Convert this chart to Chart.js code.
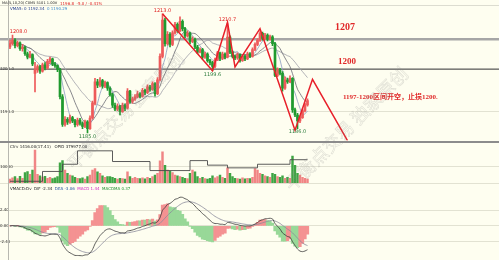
<!DOCTYPE html>
<html><head><meta charset="utf-8">
<script src="https://cdn.jsdelivr.net/npm/chart.js@4.4.0/dist/chart.umd.min.js"></script>
<style>
html,body{margin:0;padding:0;background:#fefef0;width:499px;height:260px;overflow:hidden;}
#wrap{position:relative;width:499px;height:260px;font-family:"DejaVu Sans",sans-serif;}
canvas{position:absolute;left:0;}
.t{position:absolute;white-space:nowrap;line-height:1;}
.wm{position:absolute;white-space:nowrap;font-family:"Noto Sans CJK SC";font-size:17px;line-height:1;color:rgba(255,255,255,0);-webkit-text-stroke:0.5px rgba(140,140,140,0.32);transform:translate(-50%,-50%) rotate(-45deg);}
.sep{position:absolute;left:0;width:499px;}
</style></head><body>
<div id="wrap">
<canvas id="cp" width="499" height="143" style="top:0"></canvas>
<canvas id="cv" width="499" height="47" style="top:143px"></canvas>
<canvas id="cm" width="499" height="70" style="top:190px"></canvas>
<div class="sep" style="top:141px;height:2px;background:#8c8c8c"></div>

<div class="t" style="left:2px;top:1.5px;font-size:3.6px;color:#222">MA(5,10,20) C0M5 5101 1.00V</div>
<div class="t" style="left:60px;top:1.5px;font-size:4px;color:#e02020">1196.8&nbsp; -5.0 / -0.41%</div>
<div class="t" style="left:10px;top:6.5px;font-size:4px;color:#203c90">VMA5: 0 1192.34 <span style="color:#3a8ad0">&nbsp;0 1190.29</span></div>

<div class="t" style="left:335px;top:22px;font-size:10px;font-weight:bold;color:#e02828;font-family:'Liberation Serif',serif">1207</div>
<div class="t" style="left:338px;top:57px;font-size:9px;font-weight:bold;color:#e02828;font-family:'Liberation Serif',serif">1200</div>
<div class="t" style="left:343px;top:94px;font-size:7px;font-weight:bold;color:#e02828;font-family:'Liberation Serif','Noto Sans CJK SC',serif">1197-1200区间开空，止损1200.</div>

<div class="t" style="left:10px;top:144.5px;font-size:4px;color:#222">Ctrv 1416.00(17.41)&nbsp;&nbsp; OPID 379977.00</div>
<div class="t" style="left:10px;top:186.5px;font-size:4px;color:#222">VMACD:Dv&nbsp; DIF -2.34&nbsp; <span style="color:#2050a0">DEA -3.06</span>&nbsp; <span style="color:#d020c0">MACD 1.44</span>&nbsp; <span style="color:#209030">MACDMA 0.37</span></div>

<div class="wm" style="left:125px;top:110px">平衡点交易 独家原创</div>
<div class="wm" style="left:345px;top:128px;font-size:18px">平衡点交易 独家原创</div>
</div>
<script>
// ---- DATA ----
const open = [
1205.2,1206.0,1206.8,1205.5,1206.2,1204.8,1205.2,1203.6,1202.8,1203.4,
1199.0,1199.8,1200.6,1199.5,1201.0,1200.2,1201.8,1202.4,1201.2,1200.8,
1199.9,1193.5,1187.0,1188.2,1187.5,1188.6,1187.8,1186.9,1188.0,1187.2,
1186.5,1187.6,1186.0,1188.5,1192.0,1197.0,1196.2,1197.3,1196.0,1196.8,
1195.5,1194.0,1191.5,1190.6,1191.2,1190.0,1191.5,1190.8,1194.8,1192.4,
1193.0,1193.5,1194.2,1193.6,1195.0,1194.5,1195.8,1195.2,1196.6,1194.2,
1197.5,1203.0,1211.5,1206.0,1208.2,1205.8,1208.5,1210.5,1209.0,1211.2,
1209.5,1207.8,1208.4,1206.5,1207.0,1205.2,1204.0,1204.6,1202.8,1203.5,
1202.0,1201.5,1200.6,1202.2,1203.8,1202.5,1203.5,1202.8,1207.5,1204.0,
1203.0,1202.6,1203.4,1202.0,1203.0,1202.4,1203.6,1203.0,1204.6,1205.8,
1206.8,1208.4,1207.2,1208.0,1207.0,1207.6,1206.0,1198.5,1199.8,1199.0,
1195.5,1197.5,1197.0,1197.8,1190.4,1189.2,1187.8,1188.6,1190.2,1191.6];
const high = [
1206.8,1208.0,1207.2,1206.6,1206.4,1205.8,1205.4,1204.0,1204.2,1203.6,
1201.6,1201.0,1200.9,1201.4,1201.5,1202.3,1202.8,1202.6,1201.6,1201.0,
1200.2,1194.0,1188.8,1188.6,1189.2,1188.9,1188.2,1188.5,1188.4,1187.6,
1188.0,1187.9,1189.0,1192.5,1197.8,1197.6,1198.0,1197.6,1197.2,1197.0,
1195.8,1194.3,1192.0,1191.8,1191.5,1192.0,1191.8,1195.4,1195.0,1193.4,
1194.0,1194.8,1194.5,1195.5,1195.3,1196.3,1196.2,1197.0,1196.8,1198.0,
1203.6,1213.0,1212.0,1208.8,1208.6,1209.0,1211.0,1210.9,1212.3,1211.6,
1209.8,1209.0,1208.7,1207.6,1207.3,1205.6,1205.0,1204.9,1204.0,1203.8,
1202.3,1201.8,1202.6,1204.2,1204.0,1204.0,1203.8,1210.7,1207.8,1204.3,
1203.3,1203.8,1203.6,1203.4,1203.3,1204.0,1203.9,1205.0,1206.2,1207.2,
1208.8,1208.7,1208.4,1208.3,1208.0,1207.9,1206.3,1200.3,1200.2,1199.4,
1198.2,1197.9,1198.4,1198.0,1190.8,1189.6,1189.0,1190.6,1192.0,1193.0];
const low = [
1204.8,1205.6,1205.0,1205.2,1204.4,1204.2,1203.2,1202.4,1202.6,1200.8,
1194.6,1199.2,1199.0,1199.3,1199.8,1200.0,1201.4,1200.8,1200.4,1199.4,
1193.0,1186.5,1186.6,1187.0,1187.2,1187.4,1186.4,1186.6,1186.8,1186.0,
1186.2,1185.0,1185.8,1188.2,1191.6,1195.6,1195.8,1195.5,1195.6,1195.0,
1193.6,1191.0,1190.2,1190.2,1189.2,1189.8,1190.2,1190.6,1192.0,1192.0,
1192.6,1193.2,1193.2,1193.4,1194.0,1194.2,1194.8,1195.0,1193.6,1194.0,
1197.2,1202.6,1205.4,1205.6,1205.2,1205.5,1208.2,1208.6,1208.8,1209.0,
1207.4,1207.5,1206.0,1206.2,1204.8,1203.6,1203.8,1202.4,1202.5,1201.6,
1201.0,1199.6,1200.3,1202.0,1202.0,1202.2,1202.4,1202.6,1203.6,1202.6,
1202.2,1202.3,1201.6,1201.8,1202.0,1202.2,1202.7,1202.8,1204.3,1205.5,
1206.5,1206.8,1206.9,1206.6,1206.8,1205.5,1198.2,1198.2,1198.6,1194.8,
1195.2,1196.6,1196.8,1189.8,1188.8,1186.0,1187.4,1188.4,1189.9,1191.3];
const close = [
1206.0,1206.8,1205.5,1206.2,1204.8,1205.2,1203.6,1202.8,1203.4,1201.2,
1199.8,1200.6,1199.5,1201.0,1200.2,1201.8,1202.4,1201.2,1200.8,1199.9,
1193.5,1187.0,1188.2,1187.5,1188.6,1187.8,1186.9,1188.0,1187.2,1186.5,
1187.6,1186.0,1188.5,1192.0,1197.0,1196.2,1197.3,1196.0,1196.8,1195.5,
1194.0,1191.5,1190.6,1191.2,1190.0,1191.5,1190.8,1194.8,1192.4,1193.0,
1193.5,1194.2,1193.6,1195.0,1194.5,1195.8,1195.2,1196.6,1194.2,1197.5,
1203.0,1211.5,1206.0,1208.2,1205.8,1208.5,1210.5,1209.0,1211.2,1209.5,
1207.8,1208.4,1206.5,1207.0,1205.2,1204.0,1204.6,1202.8,1203.5,1202.0,
1201.5,1200.6,1202.2,1203.8,1202.5,1203.5,1202.8,1207.5,1204.0,1203.0,
1202.6,1203.4,1202.0,1203.0,1202.4,1203.6,1203.0,1204.6,1205.8,1206.8,
1208.4,1207.2,1208.0,1207.0,1207.6,1206.0,1198.5,1199.8,1199.0,1195.5,
1197.5,1197.0,1197.8,1190.4,1189.2,1187.8,1188.6,1190.2,1191.6,1192.6];
const volume = [
2500,3200,4000,2800,4200,3000,6500,7200,5500,8000,
20500,5500,4500,3800,4200,3000,3500,2800,3200,4000,
12500,14000,8000,6000,5000,4500,3500,3000,2800,3200,
2500,4000,5000,8000,9000,7000,6000,4500,3500,4000,
4000,3500,3000,2500,3000,2800,2500,7000,4000,3000,
3500,3000,2800,3200,2600,3500,3000,4000,5000,6000,
13800,19400,11000,8000,7500,6500,5000,4500,4000,3500,
3000,2800,6000,8000,7000,4000,3000,3500,2800,2500,
3000,4500,3200,4000,5000,3500,3000,9400,6000,4000,
3000,2800,2500,3200,2600,3000,2800,3500,9000,8000,
6000,5500,4500,4000,3500,6000,5500,4000,3500,4500,
3000,3500,3000,16700,11000,6000,5000,3500,3000,2500];
// open interest (step line): bar index where the level starts, and level
const opiIdx = [0,13,21,27,41,56,72,79,87,99,112,119];
const opiVal = [372100,375360,377750,382200,378650,375650,378950,377450,376550,377750,379250,379250];
// projected zigzag path (bar index, price)
const zigIdx = [61,81,87,90,100,114,121,135];
const zigVal = [1213.0,1199.6,1211.0,1200.5,1209.5,1185.6,1197.6,1183.2];
// key levels
const levels = [1207,1200];
const priceTicks = [1190,1200];
const volTicks = [0,10000];
const markHigh = [1,61,87];
const markLow = [31,81,115];
const maPeriods = [5,10,20];

// ---- derived ----
const idx = close.map((_,i)=>i);
const up = idx.map(i=>close[i]>=open[i]);
function ma(arr,n){return arr.map((_,i)=>{const s=arr.slice(Math.max(0,i-n+1),i+1);return s.reduce((a,b)=>a+b,0)/s.length;});}
function ema(arr,n){const k=2/(n+1);let e=arr[0];return arr.map((v,i)=>{e=i?e+k*(v-e):v;return e;});}
const e12=ema(close,12), e26=ema(close,26);
const dif=idx.map(i=>e12[i]-e26[i]);
const dea=ema(dif,9);
const hist=idx.map(i=>2*(dif[i]-dea[i]));
// MACD panel scale: zero line 36px below top, 34px above bottom
const allM=[...dif,...dea,...hist];
const mPos=Math.max(...allM), mNeg=-Math.min(...allM);
const ppu=Math.min(34/mPos,32/mNeg);
const mMax=36/ppu, mMin=-34/ppu, mT=17/ppu;

const xMin=-4, xMax=195.6;
const RED='#ee5a5a', GRN='#1f9a2e';
Chart.defaults.font.family='DejaVu Sans';
Chart.defaults.animation=false;
const common={responsive:false,maintainAspectRatio:false,devicePixelRatio:1,animation:false,
  layout:{padding:0},plugins:{legend:{display:false},tooltip:{enabled:false}}};
const xAxis={type:'linear',min:xMin,max:xMax,display:false,offset:false,grid:{offset:false}};
function yAxis(min,max,ticks,fmt,gridColor){
  return {min,max,position:'left',border:{display:false},
    grid:{color:gridColor||'#e2e2d2',drawTicks:false,lineWidth:1},
    ticks:{mirror:true,padding:0,font:{size:4},color:'#333',callback:fmt},
    afterBuildTicks:s=>{s.ticks=ticks.map(v=>({value:v}));}};
}
const leftLine={id:'leftLine',afterDraw(c){const ctx=c.ctx;ctx.save();ctx.strokeStyle='#b8b8b0';ctx.lineWidth=1;ctx.beginPath();ctx.moveTo(8.5,0);ctx.lineTo(8.5,c.height);ctx.stroke();ctx.restore();}};

// ---- price chart ----
const markers={id:'markers',afterDatasetsDraw(c){
  const ctx=c.ctx,xs=c.scales.x,ys=c.scales.y;ctx.save();
  ctx.font='5px "DejaVu Sans"';ctx.textAlign='center';
  ctx.strokeStyle='#dcdcd0';ctx.lineWidth=1;ctx.beginPath();ctx.moveTo(0,5.5);ctx.lineTo(c.width,5.5);ctx.stroke();
  markHigh.forEach(i=>{ctx.fillStyle='#e02020';ctx.textBaseline='bottom';ctx.fillText(high[i].toFixed(1),xs.getPixelForValue(i)+(i<5?6:0),ys.getPixelForValue(high[i])-1);});
  markLow.forEach(i=>{ctx.fillStyle='#2a7a3a';ctx.textBaseline='top';ctx.fillText(low[i].toFixed(1),xs.getPixelForValue(i),ys.getPixelForValue(low[i])+1);});
  ctx.restore();}};
const priceDs=[
  {type:'line',data:[{x:xMin,y:levels[0]},{x:xMax,y:levels[0]}],borderColor:'#a6a6a6',borderWidth:2.5,pointRadius:0,order:10},
  {type:'line',data:[{x:xMin,y:levels[1]},{x:xMax,y:levels[1]}],borderColor:'#5c5c5c',borderWidth:1.2,pointRadius:0,order:10},
];
const maColors=['#8a9cc0','#6a6a72','#a0a0a8'];
maPeriods.forEach((p,k)=>{const m=ma(close,p);priceDs.push({type:'line',data:idx.map(i=>({x:i,y:m[i]})),borderColor:maColors[k],borderWidth:0.8,pointRadius:0,tension:0.3,order:8});});
priceDs.push({type:'bar',data:idx.map(i=>({x:i,y:[low[i],high[i]]})),backgroundColor:up.map(u=>u?RED:GRN),barThickness:1,grouped:false,order:3});
priceDs.push({type:'bar',data:idx.map(i=>({x:i,y:[open[i],close[i]]})),backgroundColor:up.map(u=>u?RED:GRN),barThickness:2,grouped:false,order:2});
priceDs.push({type:'line',data:zigIdx.map((x,k)=>({x,y:zigVal[k]})),borderColor:'#e8202a',borderWidth:1.5,pointRadius:0,order:0});
new Chart(document.getElementById('cp'),{data:{datasets:priceDs},options:{...common,
  scales:{x:xAxis,y:yAxis(1183.18,1215.68,priceTicks,v=>v.toFixed(1))}},plugins:[markers,leftLine]});

// ---- volume chart ----
new Chart(document.getElementById('cv'),{data:{datasets:[
  {type:'line',yAxisID:'y2',data:opiIdx.map((x,k)=>({x,y:opiVal[k]})),stepped:true,borderColor:'#4a4a4a',borderWidth:0.9,pointRadius:0,order:0},
  {type:'bar',data:idx.map(i=>({x:i,y:volume[i]})),backgroundColor:up.map(u=>u?'#f08585':'#3ea443'),barThickness:1.8,grouped:false,order:2}
]},options:{...common,scales:{x:xAxis,
  y:yAxis(-2778,23333,volTicks,v=>v===0?'':String(v)),
  y2:{display:false,min:370000,max:384000}}},plugins:[leftLine]});

// ---- MACD chart ----
const histCol=idx.map(i=>(i>0&&hist[i]<hist[i-1])?'#98d898':'#f49292');
new Chart(document.getElementById('cm'),{data:{datasets:[
  {type:'line',data:idx.map(i=>({x:i,y:dif[i]})),borderColor:'#3a3a3a',borderWidth:0.8,pointRadius:0,tension:0.2,order:0},
  {type:'line',data:idx.map(i=>({x:i,y:dea[i]})),borderColor:'#8a8a9a',borderWidth:0.8,pointRadius:0,tension:0.2,order:1},
  {type:'bar',data:idx.map(i=>({x:i,y:hist[i]})),backgroundColor:histCol,barThickness:2.6,grouped:false,order:3}
]},options:{...common,scales:{x:xAxis,
  y:yAxis(mMin,mMax,[-mT,0,mT],v=>v.toFixed(2))}},plugins:[leftLine]});
</script>
</body></html>
